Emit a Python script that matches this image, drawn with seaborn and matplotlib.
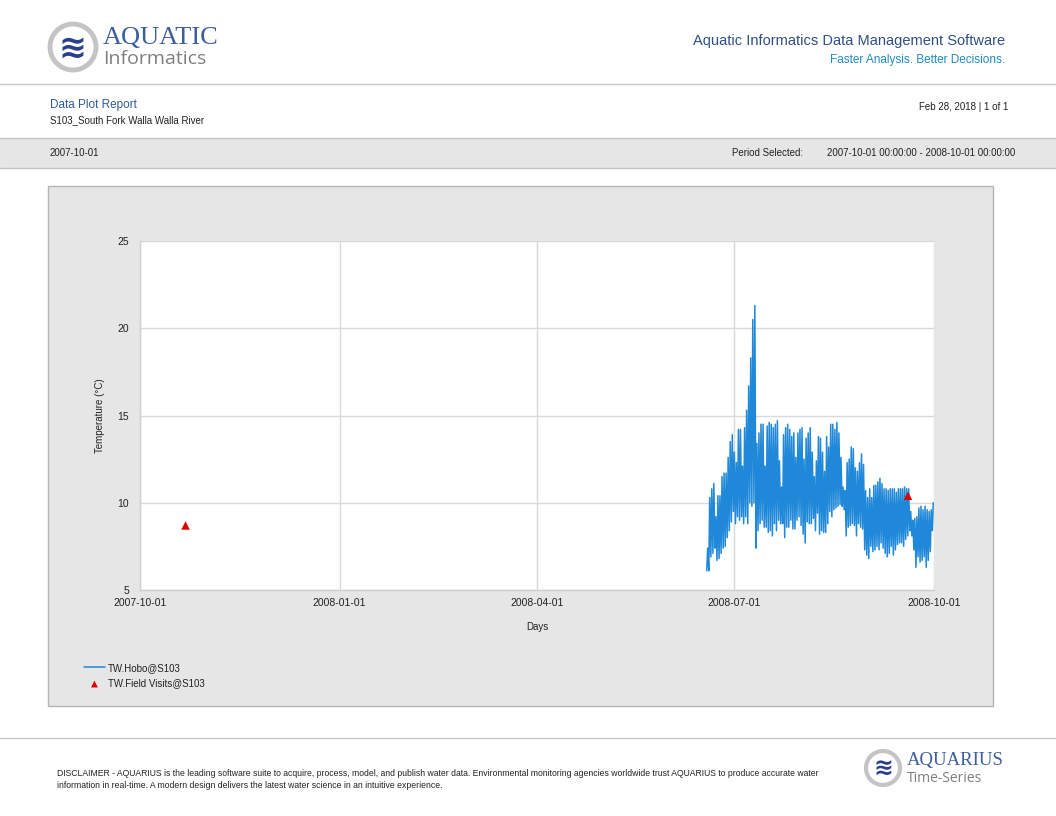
import numpy as np
import pandas as pd
import matplotlib
matplotlib.use("Agg")
import matplotlib.pyplot as plt
import matplotlib.dates as mdates
from matplotlib.patches import Rectangle, Ellipse
from matplotlib.lines import Line2D
import seaborn as sns

# ---------------- data ----------------
series_start = "2008-06-18"
series_end = "2008-09-30"
daily_low = [6.1, 6.1, 6.9, 7.1, 7.4, 6.7, 6.8, 7.1, 7.4, 7.5,
             8.0, 8.4, 8.9, 9.5, 8.8, 9.2, 9.0, 9.2, 8.8, 9.2,
             8.8, 10.0, 9.8, 10.0, 7.4, 8.4, 8.8, 9.0, 8.6, 8.6,
             8.3, 8.4, 8.1, 8.8, 8.4, 9.0, 8.8, 8.8, 8.0, 8.6,
             8.6, 9.0, 8.5, 8.5, 9.0, 9.2, 8.7, 8.2, 7.7, 8.9,
             8.8, 8.8, 9.1, 8.4, 9.4, 8.2, 8.4, 8.3, 8.3, 8.8,
             9.5, 9.2, 9.6, 9.7, 9.8, 9.9, 9.8, 9.6, 8.1, 8.6,
             8.7, 8.8, 8.7, 8.1, 8.8, 8.6, 8.5, 7.3, 7.0, 6.8,
             7.5, 7.2, 7.3, 7.5, 7.3, 7.7, 7.4, 7.1, 6.9, 7.1,
             7.5, 7.0, 7.3, 7.6, 7.7, 7.7, 7.5, 7.9, 8.1, 8.4,
             8.1, 7.3, 6.3, 6.9, 6.6, 6.7, 6.9, 6.3, 6.7, 7.2,
             8.4]
daily_high = [7.4, 10.3, 10.8, 11.1, 9.2, 10.4, 10.4, 11.5, 11.7, 11.7,
              12.6, 13.5, 13.9, 12.9, 12.3, 14.2, 14.2, 12.1, 14.3, 15.3,
              16.7, 18.3, 20.5, 21.3, 13.4, 14.0, 14.5, 14.5, 12.1, 14.4,
              14.6, 14.5, 14.3, 14.5, 14.7, 12.4, 10.9, 13.9, 14.3, 14.5,
              14.2, 13.8, 14.0, 12.6, 14.0, 14.2, 14.3, 12.5, 13.7, 14.0,
              14.3, 12.9, 11.5, 12.4, 13.8, 13.7, 12.9, 11.8, 13.8, 13.2,
              14.5, 14.5, 14.2, 14.6, 14.0, 12.6, 10.9, 10.7, 12.3, 12.5,
              13.2, 13.1, 12.0, 11.8, 12.3, 12.8, 12.2, 10.7, 10.3, 10.8,
              10.3, 11.0, 11.0, 11.2, 11.4, 11.1, 10.8, 10.8, 10.7, 10.8,
              10.8, 10.8, 10.6, 10.8, 10.8, 10.8, 10.9, 10.8, 10.8, 9.5,
              9.0, 9.1, 9.2, 9.7, 9.8, 9.6, 9.8, 9.6, 9.5, 9.6,
              10.0]
visit_dates = ["2007-10-22", "2008-09-19"]
visit_values = [8.7, 10.4]

x_ticks = ["2007-10-01", "2008-01-01", "2008-04-01", "2008-07-01", "2008-10-01"]
y_ticks = [5, 10, 15, 20, 25]

# --------------- build tables ---------------
days = pd.date_range(series_start, series_end, periods=len(daily_low))
times, temps = [], []
for d, lo, hi in zip(days, daily_low, daily_high):
    times += [d + pd.Timedelta(hours=6), d + pd.Timedelta(hours=16)]
    temps += [lo, hi]
hobo = pd.DataFrame({"time": times, "temp": temps})
visits = pd.DataFrame({"time": pd.to_datetime(visit_dates), "temp": visit_values})

# --------------- figure ---------------
sns.set_style("white")
plt.rcParams["font.family"] = ["Liberation Sans Narrow", "Liberation Sans", "DejaVu Sans"]

W, H = 1056, 816
fig = plt.figure(figsize=(W / 100, H / 100), dpi=100)
fig.patch.set_facecolor("white")

def fx(x):
    return x / W

def fy(y):
    return 1 - y / H

def hline(y, color="#c8c8c8", lw=1.0, x0=0, x1=W):
    fig.add_artist(Line2D([fx(x0), fx(x1)], [fy(y), fy(y)], color=color, lw=lw,
                          transform=fig.transFigure, zorder=-5))

def ring(cx, cy, r, lw):
    fig.add_artist(Ellipse((fx(cx), fy(cy)), 2 * r / W, 2 * r / H,
                           transform=fig.transFigure, facecolor="white",
                           edgecolor="#c4c4c4", lw=lw, zorder=-5))

# header logo
ring(73, 47, 23, 3.5)
fig.text(fx(73), fy(48), "≋", ha="center", va="center", fontsize=24, color="#2b3f8f",
         family="DejaVu Sans", fontweight="bold")
fig.text(fx(103), fy(38), "AQUATIC", ha="left", va="center", fontsize=19,
         color="#3d5d9f", family=["Liberation Serif", "DejaVu Serif"])
fig.text(fx(103), fy(59), "Informatics", ha="left", va="center", fontsize=14,
         color="#7f7f7f", family=["Open Sans", "DejaVu Sans"])

fig.text(fx(1005), fy(41), "Aquatic Informatics Data Management Software", ha="right",
         va="center", fontsize=10.5, color="#2f4f84")
fig.text(fx(1005), fy(60), "Faster Analysis. Better Decisions.", ha="right", va="center",
         fontsize=8.5, color="#1f8ac0")
hline(84)

fig.text(fx(50), fy(105), "Data Plot Report", ha="left", va="center", fontsize=8.5,
         color="#2e5c9a")
fig.text(fx(50), fy(120), "S103_South Fork Walla Walla River", ha="left", va="center",
         fontsize=7, color="#222222")
fig.text(fx(1008), fy(107), "Feb 28, 2018 | 1 of 1", ha="right", va="center",
         fontsize=7, color="#222222")

# band
fig.add_artist(Rectangle((0, fy(168)), 1, (168 - 138) / H, transform=fig.transFigure,
                         facecolor="#e6e6e6", edgecolor="none", zorder=-6))
hline(138, color="#c4c4c4")
hline(168, color="#c4c4c4")
fig.text(fx(50), fy(153), "2007-10-01", ha="left", va="center", fontsize=7, color="#222222")
fig.text(fx(803), fy(153), "Period Selected:", ha="right", va="center", fontsize=7,
         color="#222222")
fig.text(fx(1015), fy(153), "2007-10-01 00:00:00 - 2008-10-01 00:00:00", ha="right",
         va="center", fontsize=7, color="#222222")

# chart panel
fig.add_artist(Rectangle((fx(48), fy(706)), (993 - 48) / W, (706 - 186) / H,
                         transform=fig.transFigure, facecolor="#e6e6e6",
                         edgecolor="#b4b4b4", lw=1.0, zorder=-6))

ax = fig.add_axes([fx(140), fy(590), (934 - 140) / W, (590 - 241) / H])
ax.set_zorder(2)
ax.set_facecolor("white")
sns.lineplot(data=hobo, x="time", y="temp", ax=ax, color="#1f88d8", lw=1.1,
             estimator=None, sort=False, label="TW.Hobo@S103")
sns.scatterplot(data=visits, x="time", y="temp", ax=ax, marker="^", color="#e00000",
                s=38, edgecolor="none", label="TW.Field Visits@S103", zorder=5)

ax.set_xlim(pd.Timestamp(x_ticks[0]), pd.Timestamp(x_ticks[-1]))
ax.set_ylim(y_ticks[0], y_ticks[-1])
ax.set_xticks(pd.to_datetime(x_ticks))
ax.xaxis.set_major_formatter(mdates.DateFormatter("%Y-%m-%d"))
ax.set_yticks(y_ticks)
ax.grid(True, color="#d9d9d9", lw=1.0)
ax.set_axisbelow(True)
for side in ["top", "right"]:
    ax.spines[side].set_visible(False)
for side in ["left", "bottom"]:
    ax.spines[side].set_color("#d0d0d0")
    ax.spines[side].set_linewidth(1.0)
ax.tick_params(axis="both", length=6, color="#d0d0d0", labelsize=7.5,
               labelcolor="#222222", pad=2)
ax.tick_params(axis="x", length=0, pad=6)
ax.set_xlabel("Days", fontsize=7, color="#222222", labelpad=10)
ax.set_ylabel("Temperature (°C)", fontsize=7, color="#222222", labelpad=9)

leg = ax.legend(loc="upper left", bbox_to_anchor=(fx(75), fy(654)),
                bbox_transform=fig.transFigure, frameon=False, fontsize=7,
                handlelength=2.2, handletextpad=0.3, labelspacing=0.6,
                labelcolor="#222222", markerscale=0.8)

# footer
hline(738)
fig.text(fx(57), fy(774), "DISCLAIMER - AQUARIUS is the leading software suite to acquire, process, model, and publish water data. "
         "Environmental monitoring agencies worldwide trust AQUARIUS to produce accurate water",
         ha="left", va="center", fontsize=6.2, color="#222222")
fig.text(fx(57), fy(786), "information in real-time. A modern design delivers the latest water science in an intuitive experience.",
         ha="left", va="center", fontsize=6.2, color="#222222")
ring(883, 768, 17, 3)
fig.text(fx(883), fy(769), "≋", ha="center", va="center", fontsize=17, color="#2b3f8f",
         family="DejaVu Sans", fontweight="bold")
fig.text(fx(907), fy(761), "AQUARIUS", ha="left", va="center", fontsize=13.5,
         color="#3d5d9f", family=["Liberation Serif", "DejaVu Serif"])
fig.text(fx(907), fy(778), "Time-Series", ha="left", va="center", fontsize=10,
         color="#7f7f7f", family=["Open Sans", "DejaVu Sans"])

fig.savefig("out.png", dpi=100, facecolor="white")
